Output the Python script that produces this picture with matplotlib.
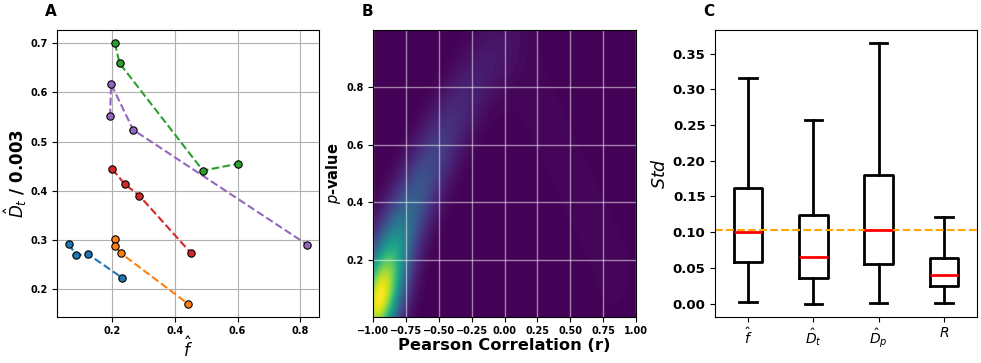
import numpy as np
import matplotlib
matplotlib.use("Agg")
import matplotlib.pyplot as plt

# ---------------- Panel A data ----------------
a_blue_x = [0.064, 0.086, 0.126, 0.232]
a_blue_y = [0.292, 0.270, 0.271, 0.224]
a_orange_x = [0.211, 0.211, 0.230, 0.442]
a_orange_y = [0.302, 0.288, 0.273, 0.171]
a_green_x = [0.210, 0.225, 0.490, 0.601]
a_green_y = [0.700, 0.659, 0.441, 0.455]
a_red_x = [0.202, 0.241, 0.288, 0.453]
a_red_y = [0.444, 0.414, 0.390, 0.273]
a_purple_x = [0.195, 0.198, 0.268, 0.821]
a_purple_y = [0.551, 0.617, 0.524, 0.291]

# ---------------- Panel B data (samples of r, p-value with weights) ----------------
kde_r = [-0.97, -0.96, -0.95, -0.93,
         -0.90, -0.86, -0.83, -0.79, -0.75, -0.69, -0.64, -0.59, -0.54, -0.49,
         -0.43, -0.37, -0.31, -0.25, -0.18, -0.11, -0.04, 0.03,
         0.10, 0.20, 0.30, 0.40, 0.50, 0.60, 0.70, 0.80, 0.88]
kde_p = [0.02, 0.05, 0.09, 0.13,
         0.18, 0.22, 0.26, 0.30, 0.35, 0.40, 0.45, 0.50, 0.55, 0.60,
         0.65, 0.70, 0.75, 0.80, 0.85, 0.90, 0.94, 0.95,
         0.90, 0.80, 0.70, 0.60, 0.50, 0.40, 0.30, 0.20, 0.10]
kde_w = [3.2, 2.7, 1.6, 0.9,
         0.7, 0.62, 0.58, 0.56, 0.54, 0.50, 0.46, 0.41, 0.36, 0.31,
         0.26, 0.21, 0.18, 0.16, 0.15, 0.14, 0.14, 0.13,
         0.09, 0.08, 0.08, 0.08, 0.08, 0.08, 0.08, 0.08, 0.08]

# ---------------- Panel C data ----------------
c_labels = [r'$\hat{f}$', r'$\hat{D}_t$', r'$\hat{D}_p$', r'$R$']
c_whislo = [0.0024, 0.0000, 0.0005, 0.0010]
c_q1 = [0.0588, 0.0356, 0.0552, 0.0248]
c_med = [0.1000, 0.0658, 0.1032, 0.0406]
c_q3 = [0.1616, 0.1242, 0.1800, 0.0644]
c_whishi = [0.3157, 0.2569, 0.3647, 0.1219]
c_ref = 0.1036

W, H = 981, 363
fig = plt.figure(figsize=(W / 100, H / 100), dpi=100)

def ax_rect(l, r, t, b):
    return [l / W, 1 - b / H, (r - l) / W, (b - t) / H]

axA = fig.add_axes(ax_rect(57, 319, 30, 316.7))
axB = fig.add_axes(ax_rect(373.3, 636, 30, 316.7))
axC = fig.add_axes(ax_rect(715.3, 976.7, 30, 316.7))

# ---- Panel A ----
series = [
    (a_blue_x, a_blue_y, 'tab:blue'),
    (a_orange_x, a_orange_y, 'tab:orange'),
    (a_green_x, a_green_y, 'tab:green'),
    (a_red_x, a_red_y, 'tab:red'),
    (a_purple_x, a_purple_y, 'tab:purple'),
]
for xs, ys, c in series:
    axA.plot(xs, ys, '--', color=c, lw=1.5, zorder=2)
    axA.plot(xs, ys, 'o', color=c, markeredgecolor='black', markeredgewidth=0.8,
             markersize=5.3, zorder=3)
axA.grid(True, color='#b0b0b0', lw=0.8)
axA.set_axisbelow(True)
axA.set_xticks([0.2, 0.4, 0.6, 0.8])
axA.set_yticks([0.2, 0.3, 0.4, 0.5, 0.6, 0.7])
axA.set_xlabel(r'$\hat{f}$', fontsize=12, labelpad=0)
axA.set_ylabel(r'$\hat{D}_t$ / 0.003', fontsize=12, fontweight='bold', labelpad=1)
for lab in axA.get_xticklabels() + axA.get_yticklabels():
    lab.set_fontweight('bold')
axA.tick_params(labelsize=7)

# ---- Panel B ----
R = np.array(kde_r)
P = np.array(kde_p)
Wt = np.array(kde_w)
Wt = Wt / Wt.sum()
sd_r, sd_p, rho = 0.12, 0.12, 0.45
cov = np.array([[sd_r ** 2, rho * sd_r * sd_p], [rho * sd_r * sd_p, sd_p ** 2]])
icov = np.linalg.inv(cov)
gx = np.linspace(-1, 1, 300)
gy = np.linspace(0, 1, 300)
GX, GY = np.meshgrid(gx, gy)
Z = np.zeros_like(GX)
for r0, p0, w0 in zip(R, P, Wt):
    dx = GX - r0
    dy = GY - p0
    q = icov[0, 0] * dx * dx + 2 * icov[0, 1] * dx * dy + icov[1, 1] * dy * dy
    Z += w0 * np.exp(-0.5 * q)
axB.contourf(GX, GY, Z, levels=100, cmap='viridis')
axB.set_xlim(-1, 1)
axB.set_ylim(0.002, 0.998)
axB.grid(True, color='white', alpha=0.5, lw=1.0)
axB.set_xticks([-1, -0.75, -0.5, -0.25, 0, 0.25, 0.5, 0.75, 1.0])
axB.set_xticklabels(['−1.00', '−0.75', '−0.50', '−0.25', '0.00', '0.25', '0.50', '0.75', '1.00'])
axB.set_yticks([0.2, 0.4, 0.6, 0.8])
axB.set_xlabel('Pearson Correlation (r)', fontsize=11.7, fontweight='bold', labelpad=1)
axB.set_ylabel(r'$p$-value', fontsize=10.5, fontweight='bold', labelpad=2)
for lab in axB.get_xticklabels() + axB.get_yticklabels():
    lab.set_fontweight('bold')
axB.tick_params(labelsize=7)

# ---- Panel C ----
stats = []
for i in range(4):
    stats.append(dict(label=c_labels[i], whislo=c_whislo[i], q1=c_q1[i], med=c_med[i],
                      q3=c_q3[i], whishi=c_whishi[i], fliers=[]))
axC.bxp(stats, widths=0.44, capwidths=0.27, showfliers=False,
        boxprops=dict(color='black', lw=2),
        whiskerprops=dict(color='black', lw=2),
        capprops=dict(color='black', lw=2),
        medianprops=dict(color='red', lw=2))
axC.axhline(c_ref, color='orange', ls='--', lw=1.5)
axC.set_ylabel(r'$Std$', fontsize=12.5, labelpad=3)
axC.set_yticks([0, 0.05, 0.1, 0.15, 0.2, 0.25, 0.3, 0.35])
for lab in axC.get_yticklabels():
    lab.set_fontweight('bold')
axC.tick_params(axis='y', labelsize=9.5)
axC.tick_params(axis='x', labelsize=10)

for ax, letter in [(axA, 'A'), (axB, 'B'), (axC, 'C')]:
    ax.text(-0.046, 1.049, letter, transform=ax.transAxes, fontsize=11,
            fontweight='bold', ha='left', va='baseline')

fig.savefig('out.png', dpi=100)
